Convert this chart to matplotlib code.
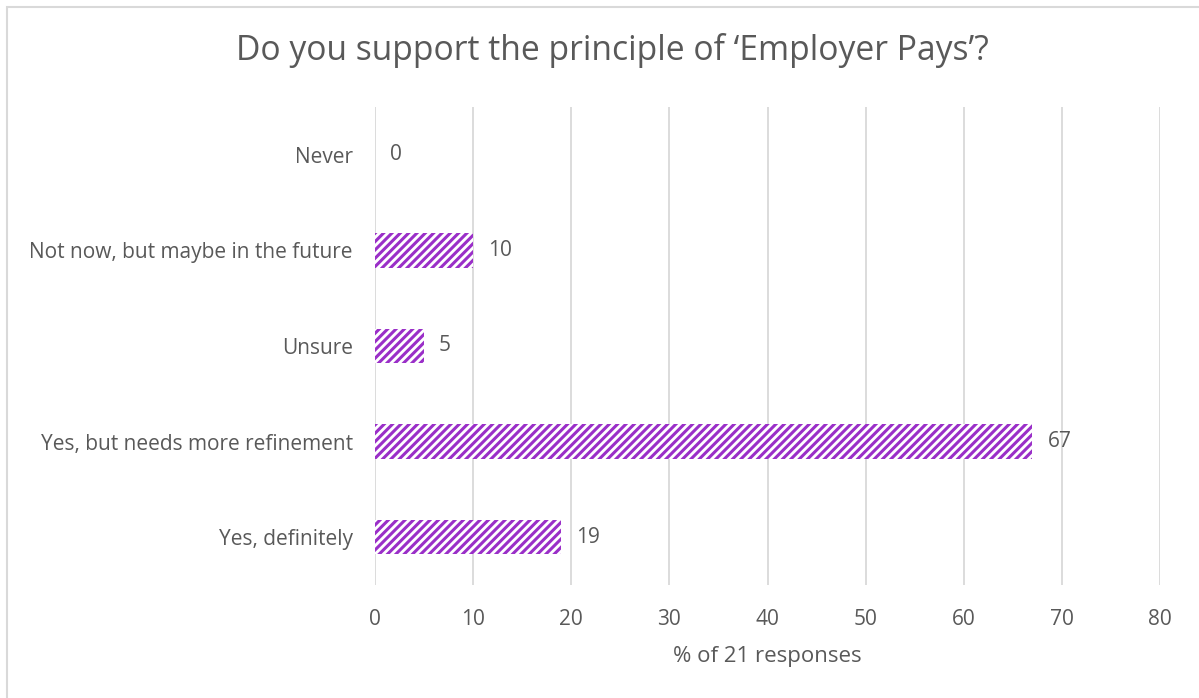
import matplotlib.pyplot as plt
from matplotlib.patches import Rectangle

# survey answers, top to bottom as shown
answers = ["Never", "Not now, but maybe in the future", "Unsure",
           "Yes, but needs more refinement", "Yes, definitely"]
percent = [0, 10, 5, 67, 19]
x_ticks = [0, 10, 20, 30, 40, 50, 60, 70, 80]

text_grey = "#595959"
grid_grey = "#D9D9D9"
purple = "#9A2FC8"

plt.rcParams["font.family"] = ["Open Sans", "DejaVu Sans"]
plt.rcParams["hatch.linewidth"] = 2.2

fig = plt.figure(figsize=(11.99, 6.98), dpi=100)
ax = fig.add_axes([0.3128, 0.1619, 0.6547, 0.6848])

# outer chart frame
fig.patches.append(Rectangle((7 / 1199, -0.01), 1.05, 1 - 7 / 698 + 0.01,
                             transform=fig.transFigure, fill=False,
                             edgecolor=grid_grey, linewidth=1.5))

y = list(range(len(answers)))
bars = ax.barh(y, percent, height=0.36, color="white", edgecolor=purple,
               hatch="////", linewidth=0, zorder=3)

for yi, v in zip(y, percent):
    ax.annotate(str(v), (v, yi), xytext=(15, 0), textcoords="offset pixels",
                ha="left", va="center", fontsize=15, color=text_grey)

ax.set_xlim(0, 80)
ax.set_ylim(len(answers) - 0.5, -0.5)
ax.set_xticks(x_ticks)
ax.set_yticks(y)
ax.set_yticklabels(answers)
ax.tick_params(axis="both", length=0, labelsize=15, colors=text_grey)
ax.tick_params(axis="y", pad=16)
ax.tick_params(axis="x", pad=17)
ax.grid(axis="x", color=grid_grey, linewidth=1.3, zorder=0)
for s in ax.spines.values():
    s.set_visible(False)

ax.set_xlabel("% of 21 responses", fontsize=16, color=text_grey, labelpad=12)
fig.text(0.511, 0.927, "Do you support the principle of \u2018Employer Pays\u2019?",
         ha="center", va="center", fontsize=24.2, color=text_grey)

fig.savefig("out.png", dpi=100)
